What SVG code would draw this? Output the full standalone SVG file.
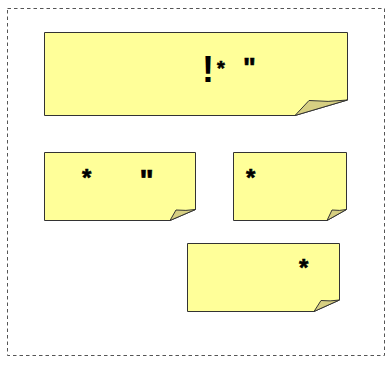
<svg xmlns="http://www.w3.org/2000/svg" width="392" height="366" viewBox="0 0 392 366">
<style>
.frame{fill:none;stroke:#555;stroke-width:1;stroke-dasharray:3.5,3}
.note{fill:#FFFF99;stroke:#333;stroke-width:1}
.fold{fill:#D6CF82;stroke:#333;stroke-width:1}
.t{font-family:"Liberation Sans",Arial,sans-serif;font-weight:bold;fill:#000;stroke:#000;stroke-width:0.6}
</style>
<rect class="frame" x="7.5" y="8.5" width="377" height="347"/>
<g id="note1">
<path class="note" d="M44.5,32.5 H347.5 V100 L295,115.5 H44.5 Z"/>
<path class="fold" d="M295,115.5 L309,100.5 Q328,102.5 347.5,100 Z"/>
<text class="t" x="202" y="82" font-size="36" style="stroke-width:0">!</text>
<text class="t" x="217" y="75" font-size="20">*</text>
<text class="t" x="243" y="77" font-size="27">"</text>
</g>
<g id="note2">
<path class="note" d="M44.5,152.5 H195.5 V209.5 L170,220.5 H44.5 Z"/>
<path class="fold" d="M170,220.5 L176,210 Q186,211 195.5,209.5 Z"/>
<text class="t" x="82" y="186" font-size="24">*</text>
<text class="t" x="139.5" y="190" font-size="30">"</text>
</g>
<g id="note3">
<path class="note" d="M233.5,152.5 H346.5 V209.5 L327,220.5 H233.5 Z"/>
<path class="fold" d="M327,220.5 L332,210 Q340,211 346.5,209.5 Z"/>
<text class="t" x="246" y="186" font-size="24">*</text>
</g>
<g id="note4">
<path class="note" d="M187.5,243.5 H339.5 V300 L314,311.5 H187.5 Z"/>
<path class="fold" d="M314,311.5 L321,300.5 Q330,301.5 339.5,300 Z"/>
<text class="t" x="299" y="276" font-size="24">*</text>
</g>
<g id="connectors"></g>
</svg>
